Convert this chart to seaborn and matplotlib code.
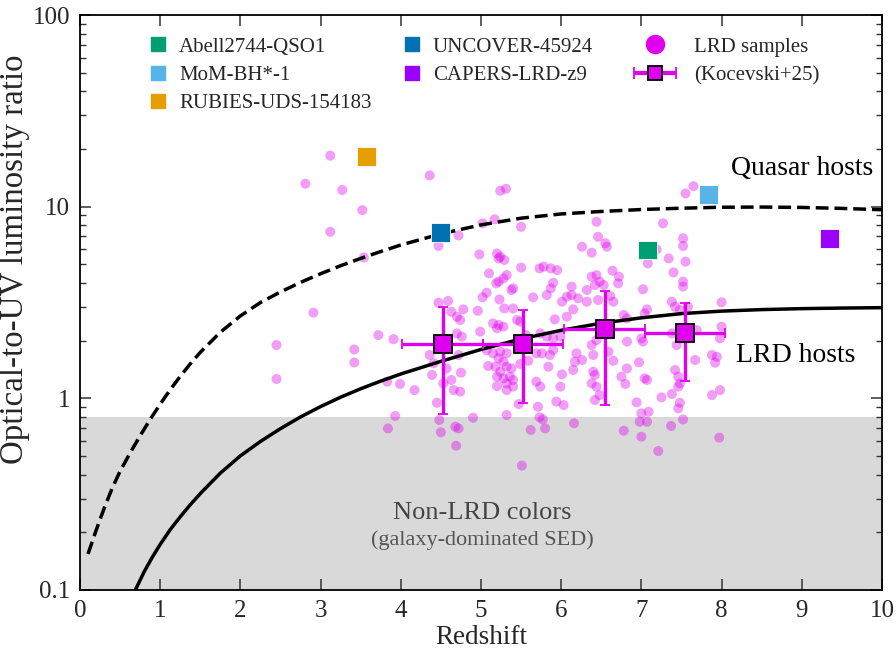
import numpy as np
import pandas as pd
import matplotlib
matplotlib.use("Agg")
import matplotlib.pyplot as plt
import seaborn as sns
from matplotlib.lines import Line2D
from matplotlib.legend_handler import HandlerErrorbar
from matplotlib.ticker import FixedLocator, FuncFormatter, LogLocator, NullFormatter

# ---------------- data ----------------
# model curves: redshift vs log10(optical-to-UV ratio)
quasar_z = [0.1, 0.2, 0.3, 0.4, 0.5, 0.625, 0.75, 0.875, 1.0, 1.125, 1.25, 1.375, 1.5, 1.75,
            2.0, 2.25, 2.5, 2.75, 3.0, 3.25, 3.5, 3.75, 4.0, 4.5, 5.0, 5.5, 6.0, 6.5, 7.0,
            7.5, 8.0, 8.5, 9.0, 9.5, 10.0]
quasar_log10_ratio = [-0.812, -0.69, -0.575, -0.47, -0.38, -0.285, -0.195, -0.11, -0.03,
                      0.045, 0.115, 0.18, 0.24, 0.345, 0.43, 0.50, 0.555, 0.605, 0.65,
                      0.692, 0.73, 0.766, 0.80, 0.858, 0.905, 0.94, 0.962, 0.975, 0.985,
                      0.992, 0.997, 0.998, 0.996, 0.991, 0.984]

lrd_host_z = [0.69, 0.8, 0.9, 1.0, 1.125, 1.25, 1.375, 1.5, 1.75, 2.0, 2.25, 2.5, 2.75, 3.0,
              3.25, 3.5, 3.75, 4.0, 4.5, 5.0, 5.5, 6.0, 6.5, 7.0, 7.5, 8.0, 8.5, 9.0, 9.5, 10.0]
lrd_host_log10_ratio = [-1.0, -0.905, -0.83, -0.762, -0.685, -0.618, -0.555, -0.497, -0.39,
                        -0.30, -0.225, -0.158, -0.097, -0.043, 0.006, 0.05, 0.09, 0.127,
                        0.193, 0.255, 0.31, 0.355, 0.392, 0.42, 0.442, 0.455, 0.463, 0.468,
                        0.471, 0.473]

# individual objects
obj_names = ["Abell2744-QSO1", "MoM-BH*-1", "RUBIES-UDS-154183", "UNCOVER-45924", "CAPERS-LRD-z9"]
obj_z = [7.08, 7.84, 3.57, 4.50, 9.34]
obj_ratio = [5.94, 11.6, 18.3, 7.3, 6.84]
obj_colors = ["#009E73", "#56B4E9", "#E69F00", "#0072B2", "#9900FF"]

# Kocevski+25 binned medians
koc_z = [4.52, 5.52, 6.54, 7.54]
koc_ratio = [1.91, 1.91, 2.29, 2.18]
koc_lo = [0.832, 0.946, 0.927, 1.236]
koc_hi = [3.01, 2.89, 3.65, 3.13]
koc_zerr = [0.5, 0.5, 0.5, 0.5]

# LRD samples: redshift and log10(optical-to-UV ratio)
lrd_z = [3.12, 2.81, 3.27, 4.36, 3.52, 3.12, 3.54, 4.72, 2.91, 5.02, 5.17, 5.24, 5.31, 5.50,
         3.72, 3.91, 3.42, 3.42, 2.45, 2.45, 7.55, 7.65, 7.27, 7.52, 6.44, 6.46,
         4.47, 4.98, 5.20, 5.24, 5.29, 5.22, 5.50, 5.73, 5.78, 5.87, 5.95, 5.10, 5.32, 5.28,
         5.22, 5.19, 5.40, 5.38, 5.90, 5.87, 5.82, 5.07, 5.02, 5.23, 5.65, 6.01, 4.47, 4.59,
         4.63, 4.70, 4.74, 4.78, 4.96, 5.29, 5.40, 5.92, 5.45, 5.49, 5.15, 5.22, 5.28, 5.20,
         4.99, 4.70, 4.76, 5.56, 5.74, 5.82, 5.90, 5.99, 5.07, 5.15, 5.24, 5.32, 5.22, 5.28,
         4.72, 5.69, 5.76, 5.86, 5.90, 4.36, 4.41, 4.57, 4.39, 4.75, 5.09, 5.18, 5.24, 5.32,
         5.38, 5.20, 5.28, 5.36, 5.40, 5.32, 5.49, 5.59, 5.84, 6.01, 3.83, 3.99, 4.17, 4.53,
         4.63, 4.66, 4.74, 5.20, 5.32, 5.40, 5.69, 5.74, 5.99, 4.45, 5.47, 5.71, 5.94, 6.03,
         3.93, 3.84, 4.48, 4.50, 4.68, 4.72, 4.69, 4.90, 5.32, 5.73, 5.77, 5.62, 5.80, 5.51,
         6.26, 6.38, 6.55, 6.57, 7.08, 7.19, 7.34, 7.40, 7.52, 7.55, 7.52, 7.52, 6.64, 6.72,
         6.71, 6.38, 6.44, 6.48, 6.53, 6.42, 6.32, 6.13, 7.02, 6.07, 6.13, 6.21, 6.32, 6.46,
         6.61, 6.65, 7.38, 7.42, 7.48, 7.58, 8.00, 6.15, 6.07, 6.78, 6.82, 7.04, 7.07, 6.38,
         6.44, 6.40, 6.19, 6.26, 6.17, 6.15, 6.59, 6.65, 6.82, 7.00, 7.02, 7.38, 7.44, 7.48,
         7.69, 8.00, 7.98, 7.88, 7.94, 7.92, 7.67, 6.40, 6.42, 6.38, 6.44, 6.48, 6.42, 6.75,
         6.82, 6.80, 6.97, 7.04, 7.07, 7.42, 7.46, 7.48, 7.46, 7.88, 7.98, 7.25, 7.38, 6.94,
         7.48, 7.46, 7.00, 7.09, 6.98, 7.07, 6.16, 6.78, 7.00, 7.21, 7.37, 7.52, 7.97]
lrd_log10_ratio = [1.266, 1.120, 1.087, 1.163, 0.982, 0.869, 0.735, 0.850, 0.447, 0.913, 0.934,
                   1.083, 1.093, 0.895, 0.330, 0.309, 0.255, 0.187, 0.278, 0.101, 1.069, 1.107,
                   0.913, 0.835, 0.921, 0.843,
                   0.795, 0.751, 0.756, 0.739, 0.722, 0.730, 0.682, 0.678, 0.687, 0.678, 0.669,
                   0.652, 0.643, 0.626, 0.609, 0.600, 0.574, 0.565, 0.603, 0.574, 0.539, 0.551,
                   0.527, 0.516, 0.527, 0.504, 0.499, 0.508, 0.452, 0.426, 0.409, 0.464, 0.457,
                   0.469, 0.469, 0.412, 0.409, 0.400, 0.391, 0.383, 0.374, 0.365, 0.348, 0.339,
                   0.322, 0.330, 0.339, 0.322, 0.313, 0.322, 0.252, 0.235, 0.243, 0.235, 0.209,
                   0.191, 0.226, 0.235, 0.235, 0.226, 0.252, 0.226, 0.183, 0.156, 0.122, 0.134,
                   0.169, 0.165, 0.139, 0.165, 0.156, 0.113, 0.104, 0.113, 0.096, 0.078, 0.179,
                   0.196, 0.165, 0.125, 0.087, 0.075, 0.043, 0.078, 0.096, 0.043, 0.035, 0.064,
                   0.043, 0.061, 0.087, 0.061, 0.061, -0.023, -0.030, -0.044, -0.017, -0.035,
                   -0.092, -0.157, -0.113, -0.177, -0.148, -0.157, -0.247, -0.101, -0.087,
                   -0.099, -0.110, -0.165, -0.157, -0.351,
                   0.791, 0.760, 0.809, 0.791, 0.704, 0.777, 0.730, 0.657, 0.795, 0.713, 0.609,
                   0.583, 0.666, 0.635, 0.600, 0.635, 0.643, 0.609, 0.591, 0.591, 0.565, 0.583,
                   0.569, 0.530, 0.539, 0.522, 0.504, 0.513, 0.534, 0.504, 0.504, 0.478, 0.461,
                   0.478, 0.501, 0.464, 0.426, 0.435, 0.417, 0.443, 0.464, 0.278, 0.304, 0.226,
                   0.235, 0.200, 0.191, 0.148, 0.243, 0.196, 0.296, 0.313, 0.296, 0.339, 0.278,
                   0.313, 0.356, 0.374, 0.313, 0.226, 0.217, 0.186, 0.200, 0.139, 0.122, 0.078,
                   0.061, 0.017, -0.009, 0.113, 0.156, 0.075, 0.188, 0.104, 0.096, 0.148, 0.113,
                   0.078, 0.061, 0.017, 0.043, 0.005, 0.023, -0.021, -0.023, -0.052, -0.078,
                   -0.070, -0.122, -0.122, -0.130, -0.169, -0.200, -0.275, -0.144, -0.110, -0.205]

nonlrd_threshold = 0.8

x_ticks = [0, 1, 2, 3, 4, 5, 6, 7, 8, 9, 10]
y_ticks = [0.1, 1, 10, 100]
y_tick_labels = ["0.1", "1", "10", "100"]

# ---------------- style ----------------
sns.set_theme(style="ticks")
plt.rcParams["font.family"] = ["Liberation Serif", "DejaVu Serif"]
plt.rcParams["axes.linewidth"] = 1.3

LRD_C = "#E000F0"

fig = plt.figure(figsize=(8.96, 6.51), dpi=100)
ax = fig.add_axes([80 / 896, 61 / 651, 802 / 896, 575 / 651])

ax.set_yscale("log")
ax.set_xlim(0, 10)
ax.set_ylim(0.1, 100)

# non-LRD band
ax.axhspan(0.1, nonlrd_threshold, color="#d9d9d9", lw=0, zorder=0)

# LRD sample points
lrd_df = pd.DataFrame({"z": lrd_z, "ratio": 10 ** np.array(lrd_log10_ratio)})
sns.scatterplot(data=lrd_df, x="z", y="ratio", ax=ax, color="#DD00EE", alpha=0.38,
                s=52, edgecolor="none", linewidth=0, zorder=2, legend=False)

# model curves
sns.lineplot(x=quasar_z, y=10 ** np.array(quasar_log10_ratio), ax=ax, color="black",
             linewidth=2.5, linestyle=(0, (3.7, 1.7)), sort=False, estimator=None, zorder=3)
sns.lineplot(x=lrd_host_z, y=10 ** np.array(lrd_host_log10_ratio), ax=ax, color="black",
             linewidth=2.5, sort=False, estimator=None, zorder=3)

# Kocevski+25 bins
koc_y = np.array(koc_ratio)
yerr = [koc_y - np.array(koc_lo), np.array(koc_hi) - koc_y]
ax.errorbar(koc_z, koc_ratio, yerr=yerr, xerr=koc_zerr, fmt="s", ms=13,
            mfc=LRD_C, mec="black", mew=1.3, ecolor=LRD_C, elinewidth=2.4,
            capsize=3.5, capthick=2.8, zorder=5)

# individual objects
obj_df = pd.DataFrame({"name": obj_names, "z": obj_z, "ratio": obj_ratio})
sns.scatterplot(data=obj_df, x="z", y="ratio", hue="name", palette=dict(zip(obj_names, obj_colors)),
                marker="s", s=185, edgecolor="white", linewidth=0.6, ax=ax, zorder=6, legend=False)

# annotations
ax.text(9.0, 15.9, "Quasar hosts", fontsize=20, ha="center", va="center", color="black")
ax.text(8.92, 1.68, "LRD hosts", fontsize=20, ha="center", va="center", color="black")
ax.text(5.02, 0.252, "Non-LRD colors", fontsize=19, ha="center", va="center", color="#444444")
ax.text(5.02, 0.182, "(galaxy-dominated SED)", fontsize=16, ha="center", va="center", color="#555555")

# axes formatting
ax.set_xlabel("Redshift", fontsize=19.5, labelpad=2)
ax.set_ylabel("Optical-to-UV luminosity ratio", fontsize=23.7)
ax.yaxis.set_label_coords(-0.062, 0.575)
ax.xaxis.set_major_locator(FixedLocator(x_ticks))
ax.yaxis.set_major_locator(FixedLocator(y_ticks))
ax.yaxis.set_major_formatter(FuncFormatter(lambda v, p: dict(zip(y_ticks, y_tick_labels)).get(v, "")))
ax.yaxis.set_minor_locator(LogLocator(base=10, subs=np.arange(2, 10), numticks=20))
ax.yaxis.set_minor_formatter(NullFormatter())
ax.tick_params(axis="both", which="major", direction="in", length=8, width=1.1,
               top=True, right=True, labelsize=18, pad=7, color="#333333")
ax.tick_params(axis="y", which="minor", direction="in", length=4.5, width=1.0,
               left=True, right=True, color="#333333")
for s in ax.spines.values():
    s.set_color("black")
    s.set_linewidth(1.3)
    s.set_zorder(10)

# legends
obj_handles = [Line2D([], [], marker="s", ls="none", color=c, mec=c, ms=10.5) for c in obj_colors]
leg1 = ax.legend(obj_handles, obj_names, ncol=2, loc="upper left",
                 bbox_to_anchor=(0.074, 0.976), frameon=False, fontsize=15,
                 handlelength=1.0, handletextpad=0.5, columnspacing=1.45,
                 labelspacing=0.42, borderaxespad=0.0)
ax.add_artist(leg1)

circ = Line2D([], [], marker="o", ls="none", color=LRD_C, mec=LRD_C, ms=13)
dummy = ax.errorbar([-5], [1], xerr=[[0.5]], fmt="s", ms=10, mfc=LRD_C, mec="black",
                    mew=1.3, ecolor=LRD_C, elinewidth=3, capsize=4, capthick=3)
leg2 = ax.legend([circ, dummy], ["LRD samples", "(Kocevski+25)"], loc="upper left",
                 bbox_to_anchor=(0.679, 0.976), frameon=False, fontsize=15,
                 handlelength=2.1, handletextpad=0.85, labelspacing=0.42,
                 borderaxespad=0.0, handler_map={dummy: HandlerErrorbar(xerr_size=1.0)})

fig.savefig("out.png", dpi=100)
